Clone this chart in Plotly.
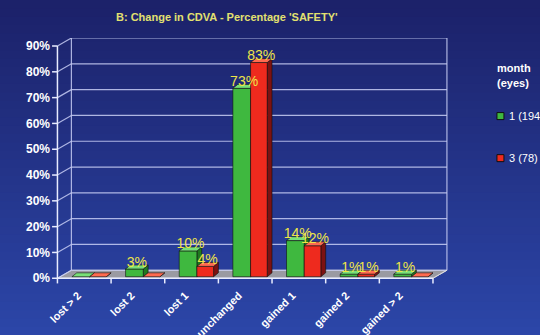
import plotly.graph_objects as go

categories = ["lost > 2", "lost 2", "lost 1", "unchanged", "gained 1", "gained 2", "gained > 2"]
month1 = [0, 3, 10, 73, 14, 1, 1]      # 1 (194)
month3 = [0, 0, 4, 83, 12, 1, 0]       # 3 (78)
y_ticks = [0, 10, 20, 30, 40, 50, 60, 70, 80, 90]
series_names = ["1 (194)", "3 (78)"]

W, H = 540, 335
# geometry (pixel-derived)
x_lo, x_hi = -0.62, 6.78
y_lo, y_hi = -3.0, 93.1
ml, mr, mt, mb = 50.6, 92.0, 38.0, 49.3
DXW, DYW = 0.26, 3.1      # back-wall depth offset
DDX, DDY = 0.09, 1.5      # bar depth offset
BASE = 0.6

fig = go.Figure()

def poly(xs, ys, fill, line="rgba(0,0,0,0)", lw=0):
    fig.add_trace(go.Scatter(x=list(xs) + [xs[0]], y=list(ys) + [ys[0]], mode="lines",
                             fill="toself", fillcolor=fill,
                             line=dict(color=line, width=lw), hoverinfo="skip", showlegend=False))

def seg(x0, y0, x1, y1, color, width=1):
    fig.add_trace(go.Scatter(x=[x0, x1], y=[y0, y1], mode="lines",
                             line=dict(color=color, width=width), hoverinfo="skip", showlegend=False))

n = len(categories)
left, right = -0.5, n - 0.5
grid_col = "rgba(200,206,245,0.85)"

# floor
poly([left, right, right + DXW, left + DXW], [0, 0, DYW, DYW], "#9a9aa2", "#c8c8d0", 1)
# back wall gridlines and left-wall diagonals
for v in y_ticks:
    seg(left + DXW, v + DYW, right + DXW, v + DYW, grid_col, 1.2)
    seg(left, v, left + DXW, v + DYW, grid_col, 1.2)
seg(left + DXW, DYW, left + DXW, y_ticks[-1] + DYW, grid_col, 1.2)
seg(right + DXW, DYW, right + DXW, y_ticks[-1] + DYW, grid_col, 1.2)
seg(right, 0, right + DXW, DYW, "#dddddd", 1)
# front axes
seg(left, 0, left, y_ticks[-1], "#e8ecff", 1.5)
seg(left, 0, right, 0, "#e8ecff", 1.5)
for v in y_ticks:
    seg(left - 0.1, v, left, v, "#e8ecff", 1.5)
for i in range(n + 1):
    seg(left + i, 0, left + i, -2.0, "#e8ecff", 1.5)

styles = [
    dict(front="#3fb83f", top="#78e078", side="#1f7a1f", x0=-0.23, x1=0.10),
    dict(front="#ee2a1e", top="#ff6a50", side="#7c1212", x0=0.10, x1=0.41),
]
for vals, st in zip([month1, month3], styles):
    for i, v in enumerate(vals):
        xa, xb = i + st["x0"], i + st["x1"]
        b, t = BASE, BASE + v
        # side face
        poly([xb, xb + DDX, xb + DDX, xb], [b, b + DDY, t + DDY, t], st["side"], "#101010", 0.6)
        # front face
        if v > 0:
            poly([xa, xb, xb, xa], [b, b, t, t], st["front"], "#101010", 0.6)
        # top face
        poly([xa, xb, xb + DDX, xa + DDX], [t, t, t + DDY, t + DDY], st["top"], "#101010", 0.6)

# value labels
for vals, st in zip([month1, month3], styles):
    xs, ys, tx = [], [], []
    for i, v in enumerate(vals):
        if v > 0:
            xs.append(i + (st["x0"] + st["x1"] + DDX) / 2)
            ys.append(BASE + v + 2.3)
            tx.append(f"{v}%")
    fig.add_trace(go.Scatter(x=xs, y=ys, text=tx, mode="text", textposition="middle center",
                             textfont=dict(family="Liberation Sans, Arial", size=14, color="#eee448"),
                             cliponaxis=False, hoverinfo="skip", showlegend=False))

# background gradient bands
shapes = []
nb = 40
top_c = (28, 34, 106)
bot_c = (44, 70, 168)
plot_h = H - mt - mb
for k in range(nb):
    py0 = H * k / nb
    py1 = H * (k + 1) / nb + 1
    f = k / (nb - 1)
    c = tuple(int(top_c[j] + (bot_c[j] - top_c[j]) * f) for j in range(3))
    shapes.append(dict(type="rect", xref="paper", yref="paper", layer="below",
                       x0=-1, x1=2,
                       y0=(H - mb - py1) / plot_h, y1=(H - mb - py0) / plot_h,
                       fillcolor="rgb(%d,%d,%d)" % c, line=dict(width=0)))

# legend as annotations + squares
plot_w = W - ml - mr
def px2paper_x(px):
    return (px - ml) / plot_w
def px2paper_y(py):
    return (H - mb - py) / plot_h

annotations = [
    dict(text="<b>B: Change in CDVA - Percentage 'SAFETY'</b>", xref="paper", yref="paper",
         x=px2paper_x(227), y=px2paper_y(17), showarrow=False, xanchor="center", yanchor="middle",
         font=dict(family="Liberation Sans, Arial", size=11, color="#e2e070")),
    dict(text="<b>month</b>", xref="paper", yref="paper", x=px2paper_x(495), y=px2paper_y(68),
         showarrow=False, xanchor="left", yanchor="middle",
         font=dict(family="Liberation Sans, Arial", size=11, color="#ffffff")),
    dict(text="<b>(eyes)</b>", xref="paper", yref="paper", x=px2paper_x(495), y=px2paper_y(83),
         showarrow=False, xanchor="left", yanchor="middle",
         font=dict(family="Liberation Sans, Arial", size=11, color="#ffffff")),
]
leg_y = [116, 158]
for name, st, ly in zip(series_names, styles, leg_y):
    shapes.append(dict(type="rect", xref="paper", yref="paper", layer="above",
                       x0=px2paper_x(497), x1=px2paper_x(504),
                       y0=px2paper_y(ly + 3.5), y1=px2paper_y(ly - 3.5),
                       fillcolor=st["front"], line=dict(color="#101010", width=1)))
    annotations.append(dict(text=name, xref="paper", yref="paper", x=px2paper_x(507), y=px2paper_y(ly),
                            showarrow=False, xanchor="left", yanchor="middle",
                            font=dict(family="Liberation Sans, Arial", size=11, color="#ffffff")))

fig.update_layout(
    width=W, height=H,
    margin=dict(l=ml, r=mr, t=mt, b=mb, pad=0, autoexpand=False),
    paper_bgcolor="#24307e", plot_bgcolor="rgba(0,0,0,0)",
    showlegend=False,
    shapes=shapes, annotations=annotations,
    xaxis=dict(range=[x_lo, x_hi], showgrid=False, zeroline=False, showline=False,
               automargin=False,
               tickmode="array", tickvals=[i - 0.12 for i in range(n)],
               ticktext=[f"<b>{c}</b>" for c in categories],
               tickangle=-45, ticks="",
               tickfont=dict(family="Liberation Sans, Arial", size=11, color="#ffffff")),
    yaxis=dict(range=[y_lo, y_hi], showgrid=False, zeroline=False, showline=False,
               automargin=False,
               tickmode="array", tickvals=y_ticks, ticktext=[f"<b>{v}%</b>" for v in y_ticks],
               ticks="",
               tickfont=dict(family="Liberation Sans, Arial", size=12, color="#ffffff")),
)

fig.write_html("out.html")
